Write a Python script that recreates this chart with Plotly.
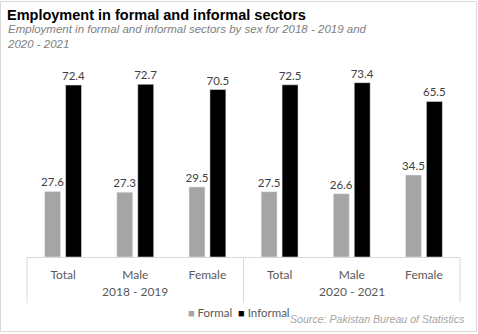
import plotly.graph_objects as go

periods = ["2018 - 2019", "2020 - 2021"]
groups = ["Total", "Male", "Female"]
formal = [27.6, 27.3, 29.5, 27.5, 26.6, 34.5]
informal = [72.4, 72.7, 70.5, 72.5, 73.4, 65.5]
series_names = ["Formal", "Informal"]
series_colors = ["#A5A5A5", "#000000"]

cats = [f"{p}|{g}" for p in periods for g in groups]
cat_labels = [g for p in periods for g in groups]

W, H = 478, 334
L, R, T, B = 27, 18, 67, 77
pw, ph = W - L - R, H - T - B

def px(x):
    return (x - L) / pw

def py(y):
    return (H - B - y) / ph

fig = go.Figure()
for name, vals, col in zip(series_names, [formal, informal], series_colors):
    fig.add_bar(x=cats, y=vals, name=name, marker_color=col,
                text=[f"{v:.1f}" for v in vals], textposition="outside",
                constraintext="none",
                textfont=dict(family="Lato, Liberation Sans", size=11.5, color="#404040"),
                cliponaxis=False, showlegend=False)

fig.update_layout(
    width=W, height=H,
    margin=dict(l=L, r=R, t=T, b=B),
    paper_bgcolor="white", plot_bgcolor="white",
    barmode="group", bargap=0.42, bargroupgap=0.24,
    font=dict(family="Lato, Liberation Sans", color="#595959", size=12),
    xaxis=dict(type="category", showline=True, linecolor="#D9D9D9", linewidth=1,
               tickvals=cats, ticktext=cat_labels, ticklabelstandoff=7,
               tickfont=dict(size=12, color="#595959"), ticks="", showgrid=False),
    yaxis=dict(range=[0, 80], visible=False),
)

# period (group) labels and dividers
n = len(periods)
for i, p in enumerate(periods):
    fig.add_annotation(text=p, xref="paper", yref="paper", x=(i + 0.5) / n, y=py(291),
                       xanchor="center", yanchor="middle", showarrow=False,
                       font=dict(family="Lato, Liberation Sans", size=12, color="#595959"))
for i in range(n + 1):
    fig.add_shape(type="line", xref="paper", yref="paper", x0=i / n, x1=i / n,
                  y0=py(303), y1=0, line=dict(color="#D9D9D9", width=1))

# legend drawn as text with coloured squares
fig.add_annotation(text=f"<span style='color:{series_colors[0]};font-size:11px'>■</span> {series_names[0]}  "
                        f"<span style='color:{series_colors[1]};font-size:11px'>■</span> {series_names[1]}",
                   xref="paper", yref="paper", x=px(186), y=py(312), xanchor="left", yanchor="middle",
                   showarrow=False, font=dict(family="Lato, Liberation Sans", size=11.5, color="#595959"))

fig.add_annotation(text="<b>Employment in formal and informal sectors</b>",
                   xref="paper", yref="paper", x=px(5), y=py(15), xanchor="left", yanchor="middle",
                   showarrow=False, font=dict(family="Liberation Sans, Arial", size=14.5, color="#000000"))
fig.add_annotation(text="<i>Employment in formal and informal sectors by sex for 2018 - 2019 and<br>2020 - 2021</i>",
                   xref="paper", yref="paper", x=px(5), y=py(21), xanchor="left", yanchor="top",
                   align="left", showarrow=False,
                   font=dict(family="Liberation Sans, Arial", size=11.5, color="#808080"))
fig.add_annotation(text="<i>Source: Pakistan Bureau of Statistics</i>",
                   xref="paper", yref="paper", x=px(467), y=py(319), xanchor="right", yanchor="middle",
                   showarrow=False, font=dict(family="Liberation Sans, Arial", size=10.6, color="#A6A6A6"))

fig.add_shape(type="rect", xref="paper", yref="paper",
              x0=px(0.5), x1=px(476.5), y0=py(331.5), y1=py(1.5),
              line=dict(color="#D9D9D9", width=1), fillcolor="rgba(0,0,0,0)", layer="below")

fig.write_html("out.html")
